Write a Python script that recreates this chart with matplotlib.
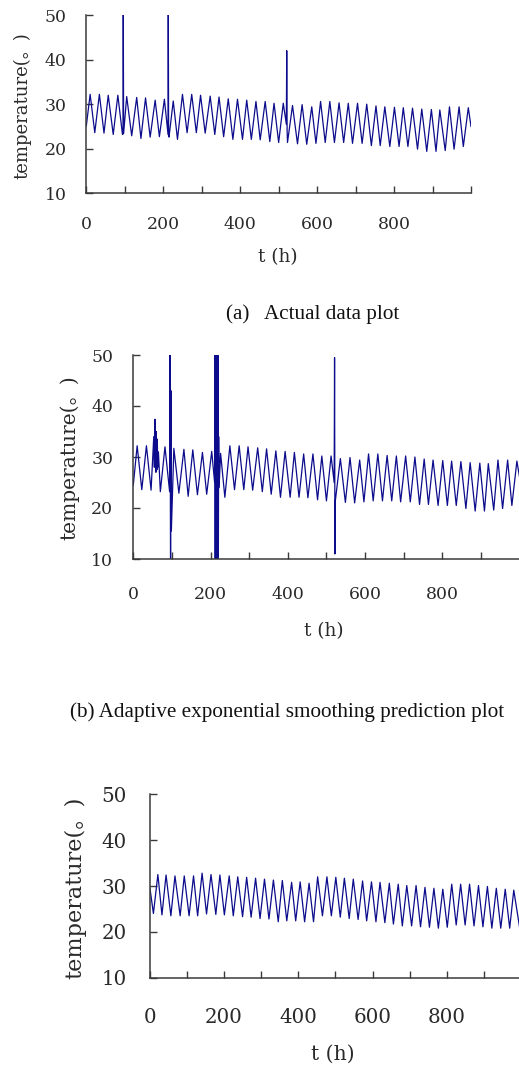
import numpy as np
import matplotlib
matplotlib.use("Agg")
import matplotlib.pyplot as plt
from matplotlib.ticker import FixedLocator, NullFormatter

# ---------------- data ----------------
# Panel (a): actual data -- daily maxima / minima
p1_peak_t = [10, 34, 57, 82, 105, 131, 154, 179, 203, 226, 250, 274, 297, 322, 345,
             369, 393, 417, 441, 465, 488, 512, 536, 561, 586, 609, 633, 657, 681, 705,
             729, 753, 776, 801, 824, 848, 872, 897, 919, 944, 969, 993]
p1_peak_v = [32.2, 32.2, 32.0, 32.0, 31.7, 31.5, 31.4, 30.9, 31.1, 30.7, 32.2, 32.2, 32.0,
             31.8, 31.6, 31.2, 31.1, 30.9, 30.6, 30.6, 30.2, 30.2, 29.7, 29.9, 29.4, 30.6,
             30.6, 30.3, 30.2, 30.2, 30.0, 29.6, 29.4, 29.3, 29.2, 29.1, 28.9, 28.8, 28.7,
             29.4, 29.4, 29.2]
p1_trough_t = [22, 46, 70, 94, 118, 142, 166, 190, 215, 237, 262, 286, 309, 334, 357,
               381, 406, 429, 452, 477, 500, 523, 549, 573, 597, 621, 645, 669, 692, 717,
               741, 764, 789, 813, 836, 861, 885, 909, 933, 956, 980]
p1_trough_v = [23.6, 23.5, 23.2, 23.2, 22.9, 22.3, 22.6, 22.7, 22.6, 22.1, 23.6, 23.6, 23.5,
               23.2, 22.7, 22.1, 22.1, 22.1, 22.0, 21.6, 21.4, 21.4, 21.1, 21.0, 21.2, 21.4,
               21.4, 21.4, 21.2, 21.2, 20.7, 20.7, 20.5, 20.5, 20.5, 19.9, 19.4, 19.4, 19.6,
               19.9, 20.5]
p1_edge_t = [0, 1000]
p1_edge_v = [25.1, 25.0]
p1_spike_t = [95.5, 96, 97, 212.5, 213, 214, 520, 521, 522]
p1_spike_v = [23.3, 55.0, 23.4, 23.2, 55.0, 22.8, 25.5, 42.0, 24.0]

# Panel (b): adaptive exponential smoothing prediction (tracks the actual data)
p2_peak_t, p2_peak_v = p1_peak_t, p1_peak_v
p2_trough_t, p2_trough_v = p1_trough_t, p1_trough_v
p2_edge_t = [0, 1000]
p2_edge_v = [24.5, 26.0]
p2_spike_t = [53, 54.5, 56, 58.5, 59.5, 61, 62, 63.5, 65,
              94.5, 95, 96.5, 97.5, 98.5,
              210.5, 211, 212, 213, 214, 215, 216, 217, 218, 219, 220, 221, 222,
              520, 521, 522, 522.7]
p2_spike_v = [34.0, 28.0, 37.4, 27.0, 35.0, 27.5, 33.5, 28.0, 31.0,
              23.3, 55.0, 5.0, 43.0, 15.5,
              25.0, 55.0, 5.0, 55.0, 5.0, 55.0, 5.0, 55.0, 5.0, 55.0, 5.0, 34.0, 24.0,
              25.0, 49.5, 11.0, 19.0]

# Panel (c): third prediction
p3_peak_t = [22, 44, 68, 93, 118, 141, 165, 189, 214, 237, 261, 285, 309, 333, 357,
             382, 405, 429, 452, 477, 501, 524, 548, 573, 597, 620, 645, 669, 692, 717,
             741, 765, 789, 813, 837, 861, 885, 909, 933, 957, 980]
p3_peak_v = [32.5, 32.4, 32.2, 32.2, 32.2, 32.8, 32.5, 32.4, 32.2, 32.0, 31.9, 31.7, 31.5,
             31.3, 31.2, 30.8, 30.9, 30.6, 32.0, 32.0, 31.9, 31.7, 31.5, 31.1, 30.9, 30.8,
             30.6, 30.4, 30.1, 30.1, 29.7, 29.5, 29.3, 30.4, 30.4, 30.4, 30.1, 29.9, 29.5,
             29.3, 29.1]
p3_trough_t = [10, 33, 57, 82, 106, 129, 153, 178, 201, 225, 250, 273, 297, 321, 346,
               369, 393, 417, 441, 465, 489, 513, 537, 561, 584, 609, 633, 656, 680, 705,
               729, 753, 777, 801, 825, 849, 873, 897, 921, 945, 969]
p3_trough_v = [24.0, 23.7, 23.5, 23.5, 23.5, 23.5, 23.9, 23.8, 23.7, 23.5, 23.3, 23.2, 22.9,
               22.8, 22.2, 22.4, 22.4, 22.2, 22.2, 23.5, 23.5, 23.2, 22.9, 22.7, 22.4, 22.2,
               22.0, 21.7, 21.3, 21.3, 21.1, 21.0, 20.8, 21.0, 21.5, 21.5, 21.3, 21.1, 20.8,
               20.8, 20.8]
p3_edge_t = [0, 997]
p3_edge_v = [29.9, 20.3]

x_major = [0, 200, 400, 600, 800]
x_minor = [100, 300, 500, 700, 900, 1000]
y_ticks = [10, 20, 30, 40, 50]
captions = ["(a)   Actual data plot", "(b) Adaptive exponential smoothing prediction plot"]
ylabel_text = "temperature(\u3002)"
xlabel_text = "t (h)"

# ---------------- layout ----------------
W, H = 519, 1067
fig = plt.figure(figsize=(W / 100, H / 100), dpi=100)

LINE = "#0c0c8c"
SPINE = "#3a3a3a"
TXT = "#2a2a2a"
SERIF = ["DejaVu Serif", "Noto Sans CJK SC"]


def rect(l, r, top, bottom):
    return [l / W, 1 - bottom / H, (r - l) / W, (bottom - top) / H]


def series(*pairs):
    t = np.concatenate([np.asarray(a, float) for a, _ in pairs])
    v = np.concatenate([np.asarray(b, float) for _, b in pairs])
    order = np.argsort(t, kind="stable")
    return t[order], v[order]


def make_panel(box, t, v, tick_fs, xpad, ypad):
    ax = fig.add_axes(rect(*box))
    ax.plot(t, v, color=LINE, lw=0.9, solid_joinstyle="round")
    ax.set_xlim(0, 1000)
    ax.set_ylim(10, 50)
    for s in ("top", "right"):
        ax.spines[s].set_visible(False)
    for s in ("left", "bottom"):
        ax.spines[s].set_color(SPINE)
        ax.spines[s].set_linewidth(1.1)
    ax.xaxis.set_major_locator(FixedLocator(x_major))
    ax.xaxis.set_minor_locator(FixedLocator(x_minor))
    ax.xaxis.set_minor_formatter(NullFormatter())
    ax.set_yticks(y_ticks)
    ax.tick_params(axis="both", which="both", direction="in", length=5, width=1.0,
                   color=SPINE, labelcolor=TXT)
    ax.tick_params(axis="x", which="major", pad=xpad)
    ax.tick_params(axis="y", pad=ypad)
    for lab in ax.get_xticklabels() + ax.get_yticklabels():
        lab.set_fontfamily(SERIF)
        lab.set_fontsize(tick_fs)
    return ax


def ftext(x, y, s, color=TXT, **kw):
    fig.text(x / W, 1 - y / H, s, ha="center", va="center", color=color, **kw)


# Panel (a)
t1, v1 = series((p1_peak_t, p1_peak_v), (p1_trough_t, p1_trough_v),
                (p1_edge_t, p1_edge_v), (p1_spike_t, p1_spike_v))
make_panel((86.3, 471.0, 15.0, 193.3), t1, v1, 12.4, 16.5, 14.0)
ftext(22.0, 105.5, ylabel_text, rotation=90, fontsize=13.0, family=SERIF)
ftext(278.0, 257.5, xlabel_text, fontsize=13.2, family=SERIF)
ftext(312.5, 314.0, captions[0], fontsize=15.2, family=["Liberation Serif"], color="#111111")

# Panel (b)
t2, v2 = series((p2_peak_t, p2_peak_v), (p2_trough_t, p2_trough_v),
                (p2_edge_t, p2_edge_v), (p2_spike_t, p2_spike_v))
make_panel((133.3, 519.6, 355.0, 559.0), t2, v2, 12.4, 19.4, 14.4)
ftext(69.5, 457.5, ylabel_text, rotation=90, fontsize=14.6, family=SERIF)
ftext(324.0, 631.0, xlabel_text, fontsize=13.2, family=SERIF)
ftext(287.5, 712.5, captions[1], fontsize=15.2, family=["Liberation Serif"], color="#111111")

# Panel (c)
t3, v3 = series((p3_peak_t, p3_peak_v), (p3_trough_t, p3_trough_v),
                (p3_edge_t, p3_edge_v))
make_panel((149.7, 521.2, 794.3, 977.7), t3, v3, 14.3, 22.0, 16.6)
ftext(75.0, 887.5, ylabel_text, rotation=90, fontsize=16.1, family=SERIF)
ftext(333.0, 1054.5, xlabel_text, fontsize=14.6, family=SERIF)

fig.savefig("out.png", dpi=100)
